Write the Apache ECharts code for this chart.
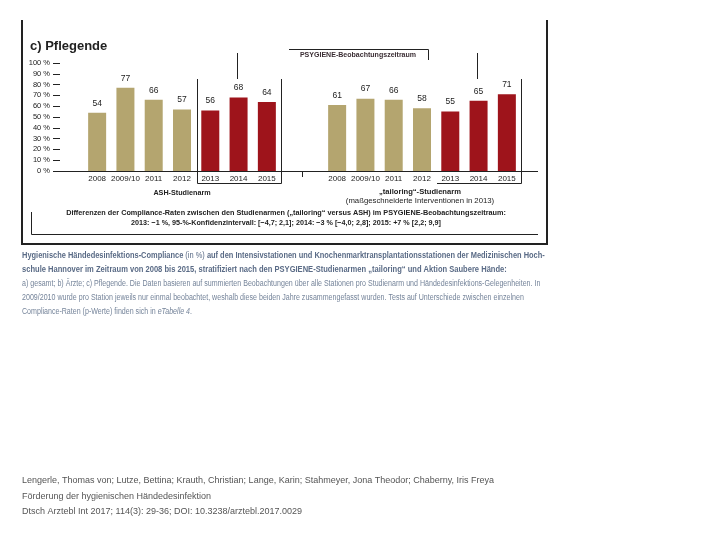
<!DOCTYPE html>
<html><head><meta charset="utf-8">
<script src="https://cdn.jsdelivr.net/npm/echarts@6/dist/echarts.min.js"></script>
<style>html,body{margin:0;padding:0;background:#fff}#c{width:720px;height:540px}</style>
</head><body><div id="c"></div>
<script>
const years = ['2008', '2009/10', '2011', '2012', '2013', '2014', '2015'];
const ashValues = [54, 77, 66, 57, 56, 68, 64];
const tailoringValues = [61, 67, 66, 58, 55, 65, 71];
const yTickStep = 10;
const psygieneYears = ['2013', '2014', '2015'];

const TAN = '#b4a56f', RED = '#9e141b', INK = '#222';
const NARROW = "'Liberation Sans Narrow','Liberation Sans',Arial,sans-serif";
const SANS = "'Liberation Sans',Arial,sans-serif";
const CAP = '#5a6b86', CAP2 = '#75849a';

function barData(vals) {
  return vals.map((v, i) => ({ value: v, itemStyle: { color: psygieneYears.includes(years[i]) ? RED : TAN } }));
}

const chart = echarts.init(document.getElementById('c'), null, { renderer: 'canvas' });
const G = [{ left: 83, width: 198, top: 63, height: 108 }, { left: 323, width: 198, top: 63, height: 108 }];
const xAx = gi => ({
  type: 'category', gridIndex: gi, data: years,
  axisLine: { show: false }, axisTick: { show: false },
  axisLabel: { color: INK, fontFamily: NARROW, fontSize: 8, margin: 4, interval: 0 }
});
const yAx = (gi, show) => ({
  type: 'value', gridIndex: gi, min: 0, max: 100, interval: yTickStep,
  offset: show ? 23 : 0,
  axisLine: { show: false }, splitLine: { show: false },
  axisTick: { show: show, length: 7, lineStyle: { color: INK, width: 1 } },
  axisLabel: { show: show, color: INK, fontFamily: NARROW, fontSize: 7.5, margin: 10, formatter: '{value} %' }
});
const ser = (gi, vals) => ({
  type: 'bar', xAxisIndex: gi, yAxisIndex: gi, data: barData(vals), barWidth: 18,
  label: { show: true, position: 'top', distance: 5, color: INK, fontFamily: NARROW, fontSize: 8.5 },
  animation: false
});

const line = (pts, w) => ({ type: 'polyline', shape: { points: pts }, style: { stroke: INK, lineWidth: w || 1, fill: null }, silent: true });
const txt = (x, y, t, o, sx) => ({ type: 'text', x: x, y: y, scaleX: sx || 1, style: Object.assign({ text: t, fill: INK, font: '9px ' + NARROW, textAlign: 'left', textVerticalAlign: 'middle' }, o || {}), silent: true });

const graphics = [
  // outer frame
  line([[22, 20], [22, 244], [547, 244], [547, 20]], 2),
  // baseline and separator tick
  line([[53, 171.5], [538, 171.5]], 1),
  line([[302.5, 171.5], [302.5, 177]], 1),
  // left PSYGIENE bracket
  line([[197.5, 79], [197.5, 183.5], [281.5, 183.5], [281.5, 79]], 1),
  line([[237.5, 53], [237.5, 79]], 1),
  // right PSYGIENE bracket
  line([[437, 183.5], [521.5, 183.5], [521.5, 79]], 1),
  line([[477.5, 53], [477.5, 79]], 1),
  // top label bracket
  line([[289, 49.5], [428.5, 49.5], [428.5, 60]], 1),
  // bottom inner bracket
  line([[31.5, 212], [31.5, 234.5], [538, 234.5]], 1),
  txt(30, 46, 'c) Pflegende', { font: 'bold 13px ' + SANS }),
  txt(358, 55, 'PSYGIENE-Beobachtungszeitraum', { font: 'bold 8px ' + NARROW, textAlign: 'center', fill: '#3b2e34' }, 0.88),
  txt(182, 193, 'ASH-Studienarm', { font: 'bold 8px ' + NARROW, textAlign: 'center' }, 0.9),
  txt(420, 192, '„tailoring“-Studienarm', { font: 'bold 8px ' + NARROW, textAlign: 'center' }, 0.95),
  txt(420, 201, '(maßgeschneiderte Interventionen in 2013)', { font: '8px ' + NARROW, textAlign: 'center' }, 0.97),
  txt(286, 213, 'Differenzen der Compliance-Raten zwischen den Studienarmen („tailoring“ versus ASH) im PSYGIENE-Beobachtungszeitraum:', { font: 'bold 8px ' + NARROW, textAlign: 'center' }, 0.91),
  txt(286, 223, '2013: −1 %, 95-%-Konfidenzintervall: [−4,7; 2,1]; 2014: −3 % [−4,0; 2,8]; 2015: +7 % [2,2; 9,9]', { font: 'bold 8px ' + NARROW, textAlign: 'center' }, 0.9),
  // caption
  {
    type: 'text', x: 22, y: 256, scaleX: 0.827, silent: true,
    style: {
      text: '{b|Hygienische Händedesinfektions-Compliance}{n| (in %) }{b|auf den Intensivstationen und Knochenmarktransplantationsstationen der Medizinischen Hoch-}',
      textVerticalAlign: 'middle',
      rich: { b: { font: 'bold 9px ' + NARROW, fill: CAP }, n: { font: '9px ' + NARROW, fill: CAP } }
    }
  },
  txt(22, 270, 'schule Hannover im Zeitraum von 2008 bis 2015, stratifiziert nach den PSYGIENE-Studienarmen „tailoring“ und Aktion Saubere Hände:', { font: 'bold 9px ' + NARROW, fill: CAP }, 0.84),
  txt(22, 284, 'a) gesamt; b) Ärzte; c) Pflegende. Die Daten basieren auf summierten Beobachtungen über alle Stationen pro Studienarm und Händedesinfektions-Gelegenheiten. In', { font: '8.5px ' + NARROW, fill: CAP2 }, 0.833),
  txt(22, 298, '2009/2010 wurde pro Station jeweils nur einmal beobachtet, weshalb diese beiden Jahre zusammengefasst wurden. Tests auf Unterschiede zwischen einzelnen', { font: '8.5px ' + NARROW, fill: CAP2 }, 0.833),
  {
    type: 'text', x: 22, y: 312, scaleX: 0.833, silent: true,
    style: {
      text: '{n|Compliance-Raten (p-Werte) finden sich in }{i|eTabelle 4}{n|.}',
      textVerticalAlign: 'middle',
      rich: { n: { font: '8.5px ' + NARROW, fill: CAP2 }, i: { font: 'italic 8.5px ' + NARROW, fill: CAP2 } }
    }
  },
  // footer
  txt(22, 481, 'Lengerle, Thomas von; Lutze, Bettina; Krauth, Christian; Lange, Karin; Stahmeyer, Jona Theodor; Chaberny, Iris Freya', { font: '9px ' + SANS, fill: '#555' }),
  txt(22, 497, 'Förderung der hygienischen Händedesinfektion', { font: '9px ' + SANS, fill: '#555' }),
  txt(22, 512, 'Dtsch Arztebl Int 2017; 114(3): 29-36; DOI: 10.3238/arztebl.2017.0029', { font: '9px ' + SANS, fill: '#555' })
];

chart.setOption({
  animation: false,
  backgroundColor: '#fff',
  grid: G,
  xAxis: [xAx(0), xAx(1)],
  yAxis: [yAx(0, true), yAx(1, false)],
  series: [ser(0, ashValues), ser(1, tailoringValues)],
  graphic: graphics
});
</script></body></html>
